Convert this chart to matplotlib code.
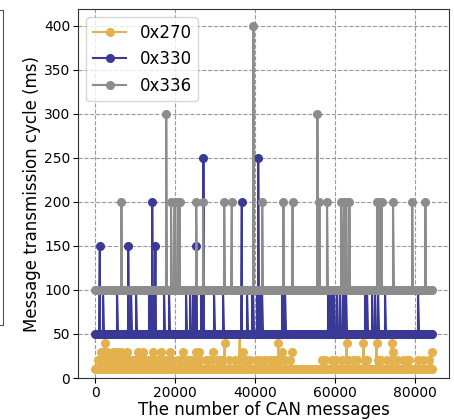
import numpy as np
import matplotlib
matplotlib.use("Agg")
import matplotlib.pyplot as plt

# ---------------- data ----------------
series_names = ["0x270", "0x330", "0x336"]
colors = ["#E3B24E", "#3A3A96", "#8C8C8C"]

x_start, x_stop = 0, 84500
base_step = 250

# 0x270 : baseline 10 ms with spikes
base_270 = 10
spk270_x = [750, 1000, 1600, 1900, 2400, 2800, 3000, 3250, 3700, 4100, 4500, 5000,
            5600, 6000, 6600, 7000, 7400, 7800, 8000, 8200, 8700, 9100, 9500, 10000,
            10750, 11200, 11700, 12000, 12300, 12800, 13200, 13700, 14500, 15200,
            15800, 16200, 16500, 16700, 17800, 18700, 19300, 20750, 21500, 22000,
            22200, 23250, 24000, 24900, 25300, 26000, 26300, 27800, 28500, 29500,
            30500, 31600, 32400, 33600, 34900, 36000, 36200, 37000, 37800, 38700,
            40200, 41200, 42400, 42500, 43750, 44300, 45000, 45800, 46200, 46700,
            47500, 48750, 49200, 56700, 57500, 59200, 60200, 61700, 62900, 63300,
            64500, 65500, 67100, 67400, 68000, 70400, 70700, 71500, 73000, 74200,
            74600, 75500, 77100, 77900, 78500, 80800, 82000, 83500, 84200]
spk270_y = [20, 20, 30, 20, 40, 20, 30, 20, 20, 20, 30, 20,
            30, 20, 30, 20, 20, 20, 30, 20, 20, 20, 20, 20,
            30, 20, 20, 30, 20, 20, 20, 20, 30, 20,
            20, 20, 30, 20, 20, 30, 20, 20, 20, 30,
            20, 20, 20, 20, 30, 30, 20, 20, 20, 30,
            20, 20, 40, 20, 20, 20, 50, 30, 20, 20,
            20, 20, 20, 20, 20, 20, 20, 40, 20, 30,
            20, 20, 30, 20, 20, 20, 20, 20, 40, 20,
            20, 20, 40, 20, 20, 40, 20, 20, 20, 40,
            30, 20, 20, 20, 20, 20, 20, 20, 30]

# 0x330 : baseline 50 ms with spikes
base_330 = 50
spk330_x = [1200, 2000, 5500, 8300, 9000, 10250, 13500, 14000, 14300, 14500, 15000,
            15100, 17250, 18500, 22750, 23750, 24500, 25000, 25300, 26500, 27100,
            29750, 32000, 36700, 38000, 39250, 39500, 40500, 40800, 41250, 41750,
            46750, 47250, 47500, 58250, 58500, 58750, 59000, 59250, 59750, 60500,
            61250, 62000, 62500, 62750, 67500, 68000, 69250, 70000, 70750, 72500,
            80750]
spk330_y = [150, 100, 100, 150, 100, 100, 100, 100, 200, 100, 100,
            150, 100, 100, 100, 100, 100, 100, 150, 100, 250,
            100, 100, 200, 100, 100, 100, 100, 250, 100, 100,
            100, 100, 100, 100, 100, 100, 100, 100, 100, 100,
            100, 100, 100, 100, 100, 100, 100, 100, 100, 100,
            100]

# 0x336 : baseline 100 ms with spikes
base_336 = 100
spk336_x = [6600, 17800, 19000, 19900, 20700, 21200, 25300, 27000, 32300, 34200,
            39600, 41800, 47100, 49400, 55600, 56100, 58000, 61500, 62200, 62800,
            63600, 70500, 71100, 71700, 74500, 79300, 82600]
spk336_y = [200, 300, 200, 200, 200, 200, 200, 200, 200, 200,
            400, 200, 200, 200, 300, 200, 200, 200, 200, 200,
            200, 200, 200, 200, 200, 200, 200]

x_ticks = [0, 20000, 40000, 60000, 80000]
y_ticks = [0, 50, 100, 150, 200, 250, 300, 350, 400]


def build(base, sx, sy):
    bx = np.arange(x_start, x_stop, base_step, dtype=float)
    by = np.full_like(bx, base)
    x = np.concatenate([bx, np.asarray(sx, float) + 1.0])
    y = np.concatenate([by, np.asarray(sy, float)])
    o = np.argsort(x, kind="stable")
    return x[o], y[o]


series = [build(base_270, spk270_x, spk270_y),
          build(base_330, spk330_x, spk330_y),
          build(base_336, spk336_x, spk336_y)]

# ---------------- figure ----------------
W, H = 454, 420
fig = plt.figure(figsize=(W / 100, H / 100), dpi=100)

# cropped neighbouring panel on the far left
axl = fig.add_axes([-0.5, 1 - 325 / H, 0.5 + 3 / W, (325 - 10) / H])
axl.set_xticks([]); axl.set_yticks([])
for s in axl.spines.values():
    s.set_color("#555555")

ax = fig.add_axes([78 / W, 1 - 378 / H, (449 - 78) / W, (378 - 9) / H])

for (x, y), name, c in zip(series, series_names, colors):
    ax.plot(x, y, "-o", color=c, lw=1.5, ms=5.5, label=name)

ax.set_xlim(-4250, 88500)
ax.set_ylim(0, 419)
ax.set_xticks(x_ticks)
ax.set_yticks(y_ticks)
ax.tick_params(labelsize=10, pad=2)
ax.grid(True, ls="--", color="#999999", lw=0.8)
ax.set_axisbelow(True)
ax.set_xlabel("The number of CAN messages", fontsize=12, labelpad=1)
ax.set_ylabel("Message transmission cycle (ms)", fontsize=12, labelpad=2)
for s in ax.spines.values():
    s.set_color("#333333")
ax.legend(loc="upper left", fontsize=12)

fig.savefig("out.png", dpi=100)
